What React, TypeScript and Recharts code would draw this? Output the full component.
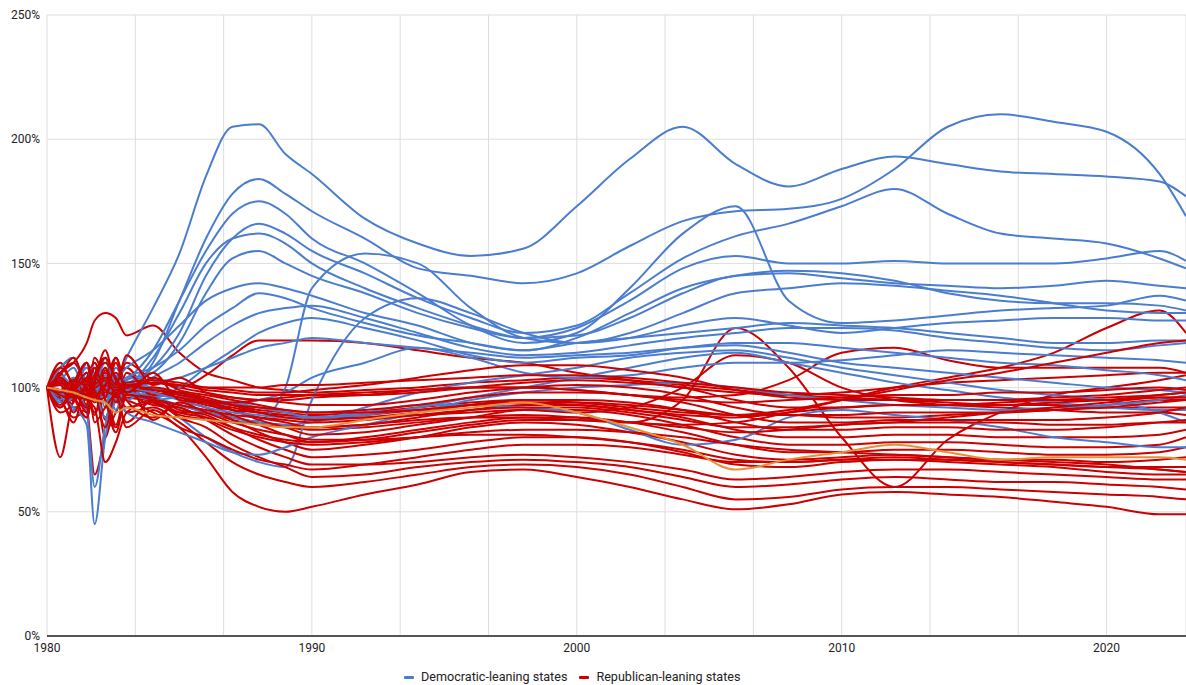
import { CartesianGrid, Legend, Line, LineChart, XAxis, YAxis } from "recharts";

// sample years (denser at the start where the lines are noisy)
const years = [
  1980, 1980.5, 1981, 1981.5, 1981.8, 1982.2, 1982.6, 1983, 1984, 1985, 1986, 1987, 1988, 1989, 1990, 1992,
  1994, 1996, 1998, 2000, 2002, 2004, 2006, 2008, 2010, 2012, 2014, 2016, 2018, 2020, 2022, 2023
];

// Democratic-leaning states
const d1 = [100, 104, 98, 106, 100, 108, 103, 112, 132, 154, 185, 205, 206, 194, 186, 168, 158, 153, 156, 173, 192, 205, 190, 181, 188, 193, 190, 187, 186, 185, 183, 177];
const d2 = [100, 97, 103, 99, 106, 101, 104, 100, 110, 135, 160, 178, 184, 178, 171, 160, 148, 145, 142, 146, 157, 167, 171, 172, 176, 188, 205, 210, 207, 203, 186, 169];
const d3 = [100, 102, 97, 104, 98, 103, 100, 103, 115, 135, 155, 170, 175, 170, 160, 150, 138, 125, 118, 122, 140, 162, 173, 135, 126, 127, 129, 131, 132, 133, 137, 135];
const d4 = [100, 99, 104, 101, 97, 105, 100, 101, 108, 122, 145, 160, 166, 162, 155, 146, 136, 128, 122, 125, 138, 152, 161, 166, 173, 180, 170, 162, 160, 158, 152, 148];
const d5 = [100, 103, 99, 102, 105, 99, 104, 102, 112, 130, 150, 160, 162, 158, 150, 140, 132, 125, 120, 124, 135, 148, 153, 150, 150, 151, 150, 150, 150, 152, 155, 151];
const d6 = [100, 98, 102, 97, 100, 104, 99, 103, 106, 118, 138, 152, 155, 150, 145, 138, 130, 124, 120, 121, 128, 138, 145, 146, 144, 142, 141, 140, 141, 143, 141, 140];
const d7 = [100, 101, 96, 103, 99, 102, 98, 97, 95, 92, 88, 86, 87, 100, 140, 154, 150, 132, 120, 118, 122, 130, 138, 140, 142, 141, 139, 137, 134, 131, 130, 130];
const d8 = [100, 102, 98, 101, 96, 100, 97, 99, 95, 88, 80, 74, 70, 68, 95, 128, 136, 130, 122, 118, 120, 125, 128, 125, 122, 124, 126, 127, 128, 128, 127, 127];
const d9 = [100, 105, 101, 108, 103, 110, 104, 108, 115, 125, 135, 140, 142, 140, 137, 130, 125, 118, 115, 118, 120, 122, 124, 126, 125, 124, 122, 120, 118, 118, 119, 119];
const d10 = [100, 98, 91, 100, 110, 97, 103, 95, 104, 110, 118, 125, 130, 132, 133, 128, 122, 116, 113, 114, 117, 120, 122, 124, 124, 123, 120, 118, 116, 115, 117, 118];
const d11 = [100, 103, 108, 97, 99, 105, 91, 102, 96, 100, 108, 115, 122, 126, 128, 124, 119, 113, 110, 112, 113, 116, 118, 118, 116, 114, 112, 110, 109, 107, 105, 103];
const d12 = [100, 96, 92, 85, 45, 80, 95, 98, 96, 93, 90, 88, 86, 85, 86, 92, 98, 102, 105, 108, 112, 114, 115, 112, 108, 105, 102, 99, 97, 95, 90, 86];
const d13 = [100, 101, 98, 90, 60, 85, 100, 102, 100, 97, 95, 94, 92, 90, 88, 89, 92, 96, 100, 104, 108, 112, 114, 110, 106, 102, 99, 96, 94, 92, 91, 91];
const d14 = [100, 95, 103, 92, 97, 88, 98, 90, 86, 82, 78, 74, 73, 76, 80, 85, 90, 95, 98, 100, 101, 102, 100, 97, 95, 93, 92, 91, 92, 93, 95, 97];
const d15 = [100, 104, 96, 110, 101, 94, 108, 100, 95, 96, 94, 93, 95, 98, 104, 110, 116, 112, 106, 104, 105, 108, 110, 110, 111, 113, 115, 114, 113, 112, 111, 110];
const d16 = [100, 97, 101, 104, 99, 103, 101, 104, 108, 115, 125, 132, 138, 136, 132, 126, 121, 118, 115, 120, 130, 140, 145, 147, 146, 143, 138, 135, 134, 134, 133, 131];
const d17 = [100, 108, 112, 101, 104, 92, 105, 101, 98, 95, 92, 90, 89, 88, 88, 90, 93, 93, 92, 90, 83, 77, 79, 88, 91, 89, 87, 84, 80, 78, 76, 76];
const d18 = [100, 94, 96, 106, 100, 112, 100, 99, 102, 104, 108, 112, 116, 118, 120, 118, 116, 114, 112, 113, 114, 116, 117, 114, 110, 108, 106, 104, 102, 100, 99, 98];

// Republican-leaning states
const r1 = [100, 106, 110, 118, 127, 130, 128, 121, 125, 114, 106, 103, 100, 99, 98, 99, 100, 102, 103, 104, 103, 101, 99, 97, 96, 95, 94, 93, 93, 92, 92, 92];
const r2 = [100, 97, 104, 92, 108, 96, 112, 98, 104, 100, 105, 113, 119, 119, 119, 118, 115, 112, 110, 106, 103, 100, 98, 97, 98, 100, 102, 103, 104, 105, 106, 106];
const r3 = [100, 103, 98, 102, 96, 100, 97, 96, 95, 93, 90, 88, 86, 85, 84, 85, 87, 88, 88, 87, 86, 95, 124, 108, 80, 60, 79, 90, 97, 100, 103, 105];
const r4 = [100, 106, 95, 110, 100, 88, 103, 108, 96, 98, 94, 92, 90, 89, 88, 88, 89, 90, 91, 90, 92, 100, 113, 110, 100, 95, 93, 92, 91, 90, 90, 89];
const r5 = [100, 95, 88, 93, 112, 101, 85, 99, 94, 90, 90, 87, 85, 84, 83, 84, 86, 88, 89, 88, 86, 85, 86, 90, 95, 100, 104, 108, 114, 124, 131, 122];
const r6 = [100, 108, 112, 100, 104, 115, 102, 110, 103, 100, 98, 96, 95, 95, 96, 97, 99, 100, 100, 99, 97, 96, 97, 103, 114, 116, 111, 108, 108, 108, 108, 106];
const r7 = [100, 72, 95, 100, 98, 102, 97, 100, 98, 96, 93, 91, 90, 89, 88, 89, 91, 93, 94, 93, 91, 89, 88, 90, 92, 93, 93, 94, 95, 96, 97, 98];
const r8 = [100, 104, 99, 92, 65, 80, 90, 98, 100, 97, 95, 93, 91, 90, 89, 90, 92, 94, 95, 94, 92, 90, 89, 89, 88, 88, 89, 90, 91, 93, 95, 95];
const r9 = [100, 97, 101, 98, 94, 99, 96, 95, 90, 84, 72, 58, 52, 50, 52, 57, 61, 66, 67, 64, 60, 55, 51, 53, 57, 58, 57, 56, 54, 52, 49, 49];
const r10 = [100, 103, 92, 96, 105, 87, 98, 90, 92, 86, 78, 70, 65, 62, 60, 62, 65, 68, 69, 68, 65, 60, 55, 56, 59, 60, 60, 59, 58, 57, 56, 55];
const r11 = [100, 90, 94, 106, 103, 80, 95, 86, 95, 88, 84, 77, 72, 68, 64, 65, 68, 70, 71, 70, 68, 64, 60, 61, 63, 64, 63, 62, 62, 61, 60, 59];
const r12 = [100, 106, 110, 99, 90, 101, 112, 100, 93, 92, 87, 81, 76, 72, 69, 69, 70, 72, 73, 72, 70, 67, 63, 64, 66, 67, 67, 66, 65, 64, 63, 63];
const r13 = [100, 96, 86, 104, 110, 95, 82, 97, 96, 91, 89, 84, 79, 75, 72, 73, 75, 78, 80, 80, 78, 74, 69, 68, 70, 71, 71, 70, 69, 68, 68, 68];
const r14 = [100, 104, 97, 88, 105, 112, 96, 101, 87, 94, 92, 87, 82, 78, 75, 77, 80, 84, 86, 85, 82, 78, 73, 71, 72, 73, 72, 71, 71, 70, 71, 72];
const r15 = [100, 99, 103, 97, 101, 106, 100, 98, 100, 98, 94, 89, 85, 81, 78, 80, 83, 86, 88, 88, 86, 82, 77, 74, 74, 75, 75, 74, 73, 73, 74, 76];
const r16 = [100, 110, 100, 92, 98, 108, 94, 106, 97, 98, 95, 91, 87, 84, 81, 82, 85, 88, 91, 91, 89, 85, 80, 77, 77, 78, 78, 77, 76, 76, 77, 80];
const r17 = [100, 97, 95, 100, 104, 98, 102, 100, 98, 96, 94, 91, 88, 86, 84, 85, 88, 91, 93, 93, 91, 88, 83, 80, 80, 81, 81, 80, 80, 80, 81, 83];
const r18 = [100, 102, 99, 103, 97, 101, 106, 101, 99, 98, 96, 93, 90, 88, 87, 88, 90, 93, 95, 95, 94, 91, 86, 83, 83, 84, 84, 83, 83, 84, 86, 87];
const r19 = [100, 92, 102, 110, 95, 96, 110, 98, 104, 99, 97, 95, 93, 91, 90, 91, 93, 96, 98, 98, 97, 94, 89, 86, 86, 87, 87, 87, 87, 88, 90, 92];
const r20 = [100, 105, 112, 98, 89, 107, 101, 113, 101, 104, 98, 96, 95, 94, 93, 93, 95, 98, 100, 101, 100, 97, 92, 89, 89, 90, 90, 90, 91, 92, 94, 95];
const r21 = [100, 99, 96, 101, 104, 99, 97, 100, 102, 101, 99, 98, 97, 97, 97, 97, 98, 100, 102, 103, 102, 100, 95, 92, 92, 93, 93, 93, 94, 95, 97, 98];
const r22 = [100, 103, 100, 97, 101, 104, 100, 102, 103, 102, 100, 99, 98, 98, 99, 101, 104, 107, 109, 109, 107, 104, 99, 96, 95, 95, 95, 95, 96, 97, 99, 100];
const r23 = [100, 93, 100, 110, 99, 84, 98, 92, 94, 89, 87, 83, 80, 78, 77, 78, 80, 82, 83, 83, 82, 80, 77, 75, 74, 73, 72, 71, 70, 69, 67, 66];
const r24 = [100, 108, 101, 90, 102, 112, 103, 95, 88, 94, 90, 86, 83, 81, 79, 79, 80, 81, 81, 80, 78, 75, 71, 70, 71, 72, 71, 70, 69, 68, 67, 66];
const r25 = [100, 98, 103, 100, 96, 101, 99, 101, 99, 97, 95, 93, 92, 91, 90, 90, 91, 93, 94, 94, 93, 91, 89, 91, 95, 99, 103, 106, 110, 114, 118, 119];
const r26 = [100, 101, 90, 102, 108, 95, 84, 97, 95, 90, 88, 84, 81, 79, 78, 79, 82, 85, 87, 87, 86, 84, 82, 83, 85, 86, 88, 90, 92, 94, 96, 96];
const r27 = [100, 102, 99, 104, 100, 103, 98, 101, 102, 101, 100, 100, 100, 101, 101, 102, 103, 104, 105, 105, 104, 102, 100, 98, 97, 96, 95, 95, 95, 95, 96, 96];
const r28 = [100, 92, 99, 106, 86, 92, 97, 84, 91, 84, 80, 75, 71, 69, 67, 69, 72, 75, 77, 77, 76, 73, 70, 70, 71, 71, 70, 69, 68, 66, 65, 65];
const r29 = [100, 102, 97, 95, 92, 70, 78, 90, 95, 93, 91, 89, 88, 87, 86, 87, 89, 91, 92, 92, 90, 87, 84, 84, 85, 86, 86, 86, 85, 85, 86, 86];
const r30 = [100, 104, 96, 88, 103, 110, 104, 98, 106, 95, 94, 94, 95, 96, 97, 98, 99, 100, 100, 99, 97, 95, 94, 95, 96, 97, 97, 98, 98, 99, 100, 99];

// orange line drawn without a legend entry
const orangeLine = [100, 99, 98, 96, 95, 94, 90, 92, 89, 88, 87, 86, 85, 84, 84, 87, 90, 92, 94, 90, 84, 77, 67, 71, 74, 77, 74, 71, 72, 72, 72, 71];

const demSeries = [d1, d2, d3, d4, d5, d6, d7, d8, d9, d10, d11, d12, d13, d14, d15, d16, d17, d18];
const repSeries = [r1, r2, r3, r4, r5, r6, r7, r8, r9, r10, r11, r12, r13, r14, r15, r16, r17, r18, r19, r20, r21, r22, r23, r24, r25, r26, r27, r28, r29, r30];

const xTicks = [1980, 1990, 2000, 2010, 2020];
const gridYears = [1980, 1983.333, 1986.667, 1990, 1993.333, 1996.667, 2000, 2003.333, 2006.667, 2010, 2013.333, 2016.667, 2020];
const yTicks = [0, 50, 100, 150, 200, 250];

const BLUE = "#4a7dcf";
const RED = "#cc0000";
const ORANGE = "#e69138";

const rows = years.map((year, i) => {
  const row: Record<string, number> = { year, us: orangeLine[i] };
  demSeries.forEach((s, j) => (row[`d${j + 1}`] = s[i]));
  repSeries.forEach((s, j) => (row[`r${j + 1}`] = s[i]));
  return row;
});

// interleave the two groups so neither colour sits fully on top
const drawOrder: { key: string; color: string }[] = [];
for (let k = 0; k < repSeries.length; k++) {
  drawOrder.push({ key: `r${k + 1}`, color: RED });
  if (k < demSeries.length) drawOrder.push({ key: `d${k + 1}`, color: BLUE });
}

const legendItems = [
  { label: "Democratic-leaning states", color: BLUE },
  { label: "Republican-leaning states", color: RED }
];

function ChartLegend() {
  return (
    <div
      style={{
        height: 26,
        boxSizing: "border-box",
        paddingLeft: 404,
        paddingBottom: 1,
        display: "flex",
        alignItems: "flex-end",
        fontFamily: "Roboto, sans-serif",
        fontSize: 12.6,
        lineHeight: "14px",
        color: "#222"
      }}
    >
      {legendItems.map((item) => (
        <span key={item.label} style={{ display: "flex", alignItems: "center", marginRight: 12 }}>
          <span
            style={{
              display: "inline-block",
              width: 10,
              height: 3,
              borderRadius: 1,
              background: item.color,
              marginRight: 7
            }}
          />
          {item.label}
        </span>
      ))}
    </div>
  );
}

export default function App() {
  return (
    <div style={{ position: "absolute", left: 0, top: 0, background: "#fff" }}>
      <LineChart width={1186} height={685} data={rows} margin={{ top: 15, right: 0, bottom: 0, left: 0 }}>
        <CartesianGrid xAxisId="grid" stroke="#dedede" strokeWidth={1} />
        <XAxis xAxisId="grid" type="number" dataKey="year" domain={[1980, 2023]} ticks={gridYears} hide />
        <XAxis
          type="number"
          dataKey="year"
          domain={[1980, 2023]}
          ticks={xTicks}
          interval={0}
          height={23}
          tickLine={false}
          tickSize={0}
          tickMargin={7}
          axisLine={{ stroke: "#555", strokeWidth: 2 }}
          tick={{ fontSize: 12, fill: "#222", fontFamily: "Roboto, sans-serif" }}
        />
        <YAxis
          domain={[0, 250]}
          ticks={yTicks}
          interval={0}
          width={47}
          axisLine={false}
          tickLine={false}
          tickSize={0}
          tickMargin={7}
          tickFormatter={(v: number) => `${v}%`}
          tick={{ fontSize: 12, fill: "#222", fontFamily: "Roboto, sans-serif" }}
        />
        <Legend verticalAlign="bottom" content={() => <ChartLegend />} />
        {drawOrder.map((s) => (
          <Line
            key={s.key}
            type="monotone"
            dataKey={s.key}
            stroke={s.color}
            strokeWidth={2}
            dot={false}
            activeDot={false}
            isAnimationActive={false}
          />
        ))}
        <Line
          type="monotone"
          dataKey="us"
          stroke={ORANGE}
          strokeWidth={2}
          dot={false}
          activeDot={false}
          isAnimationActive={false}
        />
      </LineChart>
    </div>
  );
}
